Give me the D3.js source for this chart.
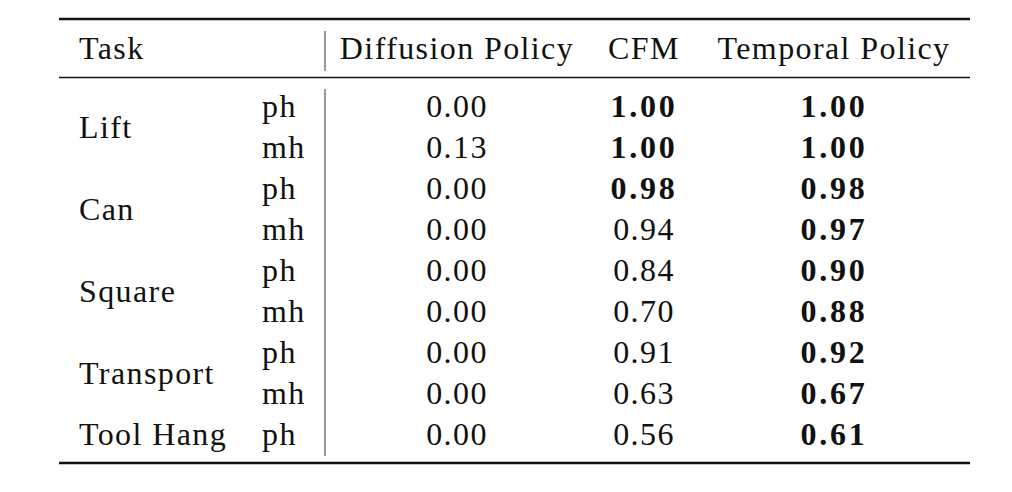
<!DOCTYPE html>
<html>
<head>
<meta charset="utf-8">
<script src="https://cdn.jsdelivr.net/npm/d3@7"></script>
<style>
  body { margin: 0; background: #fff; }
  text { font-family: "Liberation Serif", "DejaVu Serif", serif; font-size: 32px; fill: #111; letter-spacing: 1.4px; }
  text.best { font-weight: bold; letter-spacing: 2.8px; }
</style>
</head>
<body>
<script>
var width = 1012,
    height = 492;

// table content
var headers = ["Diffusion Policy", "CFM", "Temporal Policy"];
var tasks = ["Lift", "Can", "Square", "Transport", "Tool Hang"];
var taskRows = [[0, 1], [2, 3], [4, 5], [6, 7], [8]];
var horizons = ["ph", "mh", "ph", "mh", "ph", "mh", "ph", "mh", "ph"];
var diffusion = [0.00, 0.13, 0.00, 0.00, 0.00, 0.00, 0.00, 0.00, 0.00];
var cfm = [1.00, 1.00, 0.98, 0.94, 0.84, 0.70, 0.91, 0.63, 0.56];
var temporal = [1.00, 1.00, 0.98, 0.97, 0.90, 0.88, 0.92, 0.67, 0.61];

var series = [diffusion, cfm, temporal];

var svg = d3.select('body').append('svg')
    .attr('width', width)
    .attr('height', height);

var x = d3.scaleOrdinal()
    .domain(headers)
    .range([457, 644, 834]);

var y = d3.scalePoint()
    .domain(d3.range(horizons.length))
    .range([117, 445]);

var left = 59, right = 970, sep = 325;

// rules
svg.append('line').attr('x1', left).attr('x2', right)
    .attr('y1', 19).attr('y2', 19).attr('stroke', '#111').attr('stroke-width', 2.6);
svg.append('line').attr('x1', left).attr('x2', right)
    .attr('y1', 77.5).attr('y2', 77.5).attr('stroke', '#111').attr('stroke-width', 1.6);
svg.append('line').attr('x1', left).attr('x2', right)
    .attr('y1', 463).attr('y2', 463).attr('stroke', '#111').attr('stroke-width', 2.6);

// column separator
svg.append('line').attr('x1', sep).attr('x2', sep)
    .attr('y1', 31).attr('y2', 71).attr('stroke', '#555').attr('stroke-width', 1.2);
svg.append('line').attr('x1', sep).attr('x2', sep)
    .attr('y1', 89).attr('y2', 456).attr('stroke', '#555').attr('stroke-width', 1.2);

// header
svg.append('text').attr('x', 79).attr('y', 59).text('Task');
svg.selectAll('.head')
    .data(headers)
    .enter().append('text')
    .attr('class', 'head')
    .attr('x', d => x(d))
    .attr('y', 59)
    .attr('text-anchor', 'middle')
    .text(d => d);

// task labels, centred on their rows
svg.selectAll('.task')
    .data(tasks)
    .enter().append('text')
    .attr('class', 'task')
    .attr('x', 79)
    .attr('y', (d, i) => d3.mean(taskRows[i], r => y(r)))
    .text(d => d);

svg.selectAll('.hz')
    .data(horizons)
    .enter().append('text')
    .attr('class', 'hz')
    .attr('x', 262)
    .attr('y', (d, i) => y(i))
    .text(d => d);

// values, best per row in bold
headers.forEach(function (h, c) {
    svg.selectAll('.v' + c)
        .data(series[c])
        .enter().append('text')
        .attr('class', (d, i) => 'v' + c + (d === d3.max(series, s => s[i]) ? ' best' : ''))
        .attr('x', x(h))
        .attr('y', (d, i) => y(i))
        .attr('text-anchor', 'middle')
        .text(d => d.toFixed(2));
});
</script>
</body>
</html>
